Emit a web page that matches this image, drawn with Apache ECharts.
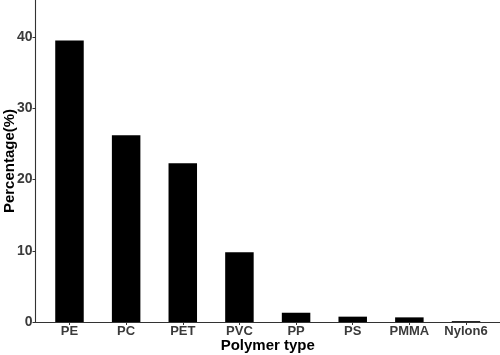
<!DOCTYPE html>
<html>
<head>
<meta charset="utf-8">
<script src="https://cdn.jsdelivr.net/npm/echarts@6/dist/echarts.min.js"></script>
<style>html,body{margin:0;padding:0;background:#fff;}#c{width:500px;height:355px;}</style>
</head>
<body>
<div id="c"></div>
<script>
const categories = ["PE", "PC", "PET", "PVC", "PP", "PS", "PMMA", "Nylon6"];
const percentages = [39.5, 26.2, 22.3, 9.8, 1.3, 0.75, 0.65, 0.12];
const yTicks = [0, 10, 20, 30, 40];

const positions = categories.map((_, i) => i);
const chart = echarts.init(document.getElementById('c'), null, {renderer: 'canvas'});
const font = 'Liberation Sans, Arial, sans-serif';
chart.setOption({
  animation: false,
  backgroundColor: '#fff',
  grid: {left: 35.5, right: 0, top: 0, bottom: 33, containLabel: false, outerBoundsMode: 'none'},
  xAxis: {
    type: 'value',
    min: -0.6,
    max: categories.length - 0.4,
    name: 'Polymer type',
    nameLocation: 'middle',
    nameGap: 16,
    nameMoveOverlap: false,
    nameTextStyle: {fontFamily: font, fontWeight: 'bold', fontSize: 15, color: '#000'},
    splitLine: {show: false},
    axisLine: {show: true, onZero: false, lineStyle: {color: '#333', width: 1.1}},
    axisTick: {show: true, length: 3, customValues: positions, lineStyle: {color: '#333'}},
    axisLabel: {
      customValues: positions,
      margin: 3,
      fontFamily: font, fontWeight: 'bold', fontSize: 13, color: '#3a3a3a',
      formatter: v => categories[Math.round(v)]
    }
  },
  yAxis: {
    type: 'value',
    min: 0,
    max: 45.2,
    interval: 10,
    name: 'Percentage(%)',
    nameLocation: 'middle',
    nameGap: 18,
    nameMoveOverlap: false,
    nameTextStyle: {fontFamily: font, fontWeight: 'bold', fontSize: 15, color: '#000'},
    splitLine: {show: false},
    axisLine: {show: true, onZero: false, lineStyle: {color: '#333', width: 1.1}},
    axisTick: {show: true, length: 3, customValues: yTicks, lineStyle: {color: '#333'}},
    axisLabel: {
      customValues: yTicks,
      margin: 3,
      fontFamily: font, fontWeight: 'bold', fontSize: 14, color: '#3a3a3a'
    }
  },
  series: [{
    type: 'bar',
    data: percentages.map((v, i) => [i, v]),
    barWidth: 28.5,
    itemStyle: {color: '#000'}
  }]
});
</script>
</body>
</html>
